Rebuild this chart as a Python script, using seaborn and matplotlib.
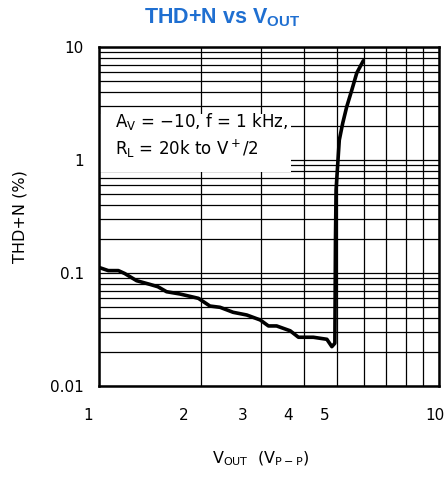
import numpy as np
import pandas as pd
import seaborn as sns
import matplotlib
matplotlib.use("Agg")
import matplotlib.pyplot as plt
from matplotlib.ticker import LogLocator, FixedLocator, NullFormatter, FixedFormatter
from matplotlib.transforms import ScaledTranslation
from matplotlib.patches import Rectangle

# ---- data ----
vout = [1.00, 1.065, 1.14, 1.19, 1.29, 1.41, 1.49, 1.58, 1.73, 1.96, 2.12, 2.27,
        2.48, 2.72, 2.98, 3.15, 3.33, 3.65, 3.86, 4.27, 4.68, 4.84, 4.94,
        4.96, 4.98, 5.09, 5.21, 5.35, 5.54, 5.73, 5.99]
thdn = [0.112, 0.105, 0.105, 0.099, 0.0855, 0.0794, 0.0756, 0.0683, 0.0652, 0.0597,
        0.0510, 0.0497, 0.0449, 0.0425, 0.0384, 0.0340, 0.0340, 0.0308, 0.0270,
        0.0270, 0.0259, 0.0223, 0.0239,
        0.196, 0.543, 1.50, 2.12, 2.94, 4.16, 5.89, 7.56]

xtick_vals = [1, 2, 3, 4, 5, 10]
xtick_labels = ["1", "2", "3", "4", "5", "10"]
ytick_vals = [0.01, 0.1, 1, 10]
ytick_labels = ["0.01", "0.1", "1", "10"]

df = pd.DataFrame({"vout": vout, "thdn": thdn})

sns.set_style("white")
plt.rcParams["font.family"] = ["DejaVu Sans"]
plt.rcParams["mathtext.fontset"] = "custom"
plt.rcParams["mathtext.rm"] = "DejaVu Sans"
plt.rcParams["mathtext.bf"] = "Liberation Sans:bold"
plt.rcParams["text.color"] = "black"
plt.rcParams["axes.labelcolor"] = "black"
plt.rcParams["xtick.color"] = "black"
plt.rcParams["ytick.color"] = "black"

fig = plt.figure(figsize=(4.44, 4.78), dpi=100)
ax = fig.add_axes([99/444, 1-386/478, 340/444, 339/478])

sns.lineplot(data=df, x="vout", y="thdn", ax=ax, color="black", lw=2.6,
             sort=False, estimator=None, zorder=3)

ax.set_xscale("log")
ax.set_yscale("log")
ax.set_xlim(1, 10)
ax.set_ylim(0.01, 10)

ax.xaxis.set_major_locator(FixedLocator(xtick_vals))
ax.xaxis.set_major_formatter(FixedFormatter(xtick_labels))
ax.xaxis.set_minor_locator(FixedLocator([6, 7, 8, 9]))
ax.xaxis.set_minor_formatter(NullFormatter())
ax.yaxis.set_major_locator(FixedLocator(ytick_vals))
ax.yaxis.set_major_formatter(FixedFormatter(ytick_labels))
ax.yaxis.set_minor_locator(LogLocator(base=10, subs=np.arange(2, 10), numticks=20))
ax.yaxis.set_minor_formatter(NullFormatter())

ax.set_axisbelow(True)
ax.grid(which="both", color="black", lw=0.9)
ax.tick_params(which="both", length=0, labelsize=11, colors="black")
ax.tick_params(axis="x", pad=16)
ax.tick_params(axis="y", pad=11)

for s in ax.spines.values():
    s.set_linewidth(1.8)
    s.set_color("black")
    s.set_zorder(4)

# shift x tick labels as in the reference
offsets = [-11, -18, -19, -16, -12, -4]
for lab, dx in zip(ax.get_xticklabels(), offsets):
    lab.set_transform(lab.get_transform() + ScaledTranslation(dx/100, 0, fig.dpi_scale_trans))

# annotation box
ax.add_patch(Rectangle((0.004, 0.631), 0.56, 0.17, transform=ax.transAxes,
                       facecolor="white", edgecolor="none", zorder=2))
ax.text(0.047, 0.668, r"A$_\mathrm{V}$ = −10, f = 1 kHz," "\n" r"R$_\mathrm{L}$ = 20k to V$^+$/2",
        transform=ax.transAxes, fontsize=12, va="bottom", ha="left",
        linespacing=1.3, zorder=3)

ax.set_xlabel(r"V$_\mathrm{OUT}$  (V$_\mathrm{P-P}$)", fontsize=11.5)
ax.set_ylabel("THD+N (%)", fontsize=11.5)
ax.xaxis.set_label_coords(0.475, -0.188)
ax.yaxis.set_label_coords(-0.21, 0.5)

fig.text(0.5, 0.962, r"THD+N vs V$_\mathbf{OUT}$", ha="center", va="center",
         fontsize=15.5, fontweight="bold", color="#1f6fd1", family="Liberation Sans")

fig.savefig("out.png", dpi=100)
